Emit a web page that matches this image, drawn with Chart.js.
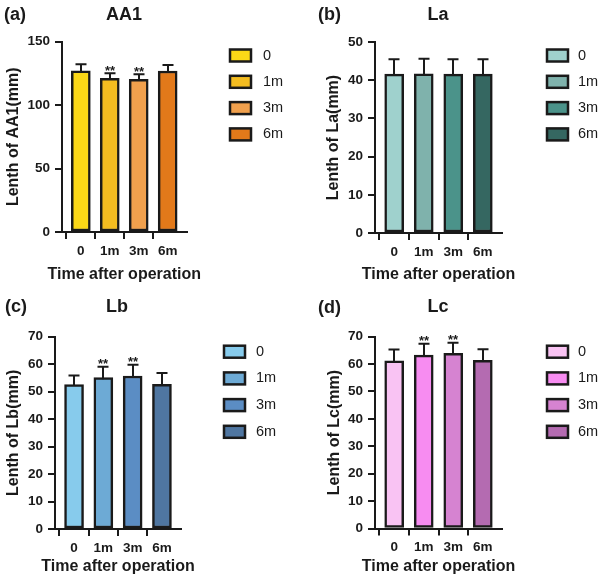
<!DOCTYPE html>
<html><head><meta charset="utf-8">
<script src="https://cdn.jsdelivr.net/npm/chart.js@4.4.1/dist/chart.umd.min.js"></script>
<style>
html,body{margin:0;padding:0;background:#fff;}
#wrap{position:relative;width:606px;height:586px;overflow:hidden;background:#fff;}
canvas{position:absolute;}
</style></head>
<body><div id="wrap">
<canvas id="ca" width="303" height="293" style="left:0;top:0"></canvas>
<canvas id="cb" width="303" height="293" style="left:303px;top:0"></canvas>
<canvas id="cc" width="303" height="293" style="left:0;top:293px"></canvas>
<canvas id="cd" width="303" height="293" style="left:303px;top:293px"></canvas>
</div>
<script>
// ---- data ----
const categories = ['0', '1m', '3m', '6m'];
const aa1Means = [127.0, 121.0, 120.2, 126.8];
const aa1Errors = [5.0, 4.0, 4.0, 4.7];
const aa1Sig = ['', '**', '**', ''];
const laMeans = [41.6, 41.7, 41.6, 41.6];
const laErrors = [3.9, 3.9, 3.9, 3.9];
const laSig = ['', '', '', ''];
const lbMeans = [52.6, 55.1, 55.7, 52.7];
const lbErrors = [3.3, 4.0, 4.1, 4.1];
const lbSig = ['', '**', '**', ''];
const lcMeans = [61.2, 63.3, 63.9, 61.4];
const lcErrors = [4.1, 4.1, 3.9, 4.0];
const lcSig = ['', '**', '**', ''];
const aa1Ticks = {max: 150, step: 50};
const laTicks = {max: 50, step: 10};
const lbTicks = {max: 70, step: 10};
const lcTicks = {max: 70, step: 10};
const xAxisTitle = 'Time after operation';

// ---- styles / layout ----
const FAM = "'Liberation Sans', Arial, Helvetica, sans-serif";
const INK = '#1a1a1a';
const CLEAR = 'rgba(0,0,0,0)';
const CW = 303, CH = 293;
const TITLE_SIZE = 16, HALF_LH = TITLE_SIZE * 1.2 / 2;
const panels = [
  {id:'ca', cx:0, cy:0, letter:'(a)', name:'AA1', yTitle:'Lenth of AA1(mm)', means:aa1Means, errs:aa1Errors, sig:aa1Sig, ticks:aa1Ticks,
   colors:['#FBD817','#F3BC20','#F0A04D','#E2791A'],
   left:62, right:186.5, top:41.5, bottom:232, yTitleX:13.5, xTitleY:275,
   letterX:4, letterY:15, nameX:124, nameY:15, legX:230, legY:55.5, legStep:26.3, legTextX:263},
  {id:'cb', cx:303, cy:0, letter:'(b)', name:'La', yTitle:'Lenth of La(mm)', means:laMeans, errs:laErrors, sig:laSig, ticks:laTicks,
   colors:['#9FD1CD','#7FB2AC','#4B938A','#356761'],
   left:375, right:502, top:42, bottom:233, yTitleX:334, xTitleY:275,
   letterX:318, letterY:15, nameX:438, nameY:15, legX:547, legY:55.5, legStep:26.3, legTextX:578},
  {id:'cc', cx:0, cy:293, letter:'(c)', name:'Lb', yTitle:'Lenth of Lb(mm)', means:lbMeans, errs:lbErrors, sig:lbSig, ticks:lbTicks,
   colors:['#87CBEC','#6DAAD5','#5B8DC4','#4F76A1'],
   left:55, right:181, top:336.7, bottom:529, yTitleX:13.5, xTitleY:567,
   letterX:5, letterY:307, nameX:117, nameY:307, legX:224, legY:351.7, legStep:26.7, legTextX:256},
  {id:'cd', cx:303, cy:293, letter:'(d)', name:'Lc', yTitle:'Lenth of Lc(mm)', means:lcMeans, errs:lcErrors, sig:lcSig, ticks:lcTicks,
   colors:['#F9C3F3','#F78CF1','#D683D1','#B46BB1'],
   left:375, right:502, top:336.7, bottom:528.5, yTitleX:335, xTitleY:567,
   letterX:318, letterY:308, nameX:438, nameY:307, legX:547, legY:351.7, legStep:26.7, legTextX:578}
];

function decoPlugin(p) {
  return {
    id: 'deco_' + p.id,
    afterDatasetsDraw(chart) {
      const ctx = chart.ctx;
      const ys = chart.scales.y;
      const area = chart.chartArea;
      const meta = chart.getDatasetMeta(0);
      ctx.save();
      // error bars (upper only) and significance stars
      ctx.strokeStyle = INK; ctx.lineWidth = 2; ctx.lineCap = 'butt';
      meta.data.forEach((bar, i) => {
        const x = Math.round(bar.x);
        const yTop = ys.getPixelForValue(p.means[i] + p.errs[i]);
        ctx.beginPath();
        ctx.moveTo(x, bar.y + 1.5); ctx.lineTo(x, yTop);
        ctx.moveTo(x - 5.5, yTop); ctx.lineTo(x + 5.5, yTop);
        ctx.stroke();
        if (p.sig[i]) {
          ctx.fillStyle = INK;
          ctx.font = 'bold 13px ' + FAM;
          ctx.textAlign = 'center'; ctx.textBaseline = 'alphabetic';
          ctx.fillText(p.sig[i], x, yTop + 1.5);
        }
      });
      // x axis title (drawn unsqueezed, centred under the plot area)
      ctx.fillStyle = INK;
      ctx.font = 'bold ' + TITLE_SIZE + 'px ' + FAM;
      ctx.textAlign = 'center'; ctx.textBaseline = 'middle';
      ctx.fillText(xAxisTitle, (area.left + area.right) / 2, p.xTitleY - p.cy);
      // panel letter and title
      ctx.font = 'bold 18px ' + FAM;
      ctx.textAlign = 'left';
      ctx.fillText(p.letter, p.letterX - p.cx, p.letterY - p.cy);
      ctx.textAlign = 'center';
      ctx.fillText(p.name, p.nameX - p.cx, p.nameY - p.cy);
      // legend
      categories.forEach((c, i) => {
        const y = p.legY - p.cy + i * p.legStep;
        const x = p.legX - p.cx;
        ctx.fillStyle = p.colors[i];
        ctx.fillRect(x, y - 6, 21, 12);
        ctx.strokeStyle = INK; ctx.lineWidth = 2.5;
        ctx.strokeRect(x, y - 6, 21, 12);
        ctx.fillStyle = INK;
        ctx.font = '14.5px ' + FAM;
        ctx.textAlign = 'left'; ctx.textBaseline = 'middle';
        ctx.fillText(c, p.legTextX - p.cx, y);
      });
      ctx.restore();
    }
  };
}

panels.forEach(p => {
  const padT = p.top - p.cy;
  const padR = p.cx + CW - p.right;
  const padL = Math.max(0, p.yTitleX - p.cx - HALF_LH - 4);
  const yW = p.left - p.cx - padL;
  const xH = CH - (p.bottom - p.cy);
  new Chart(document.getElementById(p.id), {
    type: 'bar',
    data: {
      datasets: [{
        data: p.means.map((v, i) => ({x: i, y: v})),
        backgroundColor: p.colors,
        borderColor: INK,
        borderWidth: 2.5,
        borderSkipped: false,
        barThickness: 19
      }]
    },
    options: {
      responsive: false,
      animation: false,
      events: [],
      layout: {padding: {left: padL, right: padR, top: padT, bottom: 0}},
      plugins: {legend: {display: false}, tooltip: {enabled: false}},
      scales: {
        x: {
          type: 'linear', min: -0.65, max: 3.65, offset: false,
          afterBuildTicks: s => { s.ticks = categories.map((c, i) => ({value: i})); },
          afterFit: s => { s.height = xH; },
          ticks: {stepSize: 1, includeBounds: false, callback: v => categories[v], font: {family: FAM, size: 13.5, weight: 'bold'}, color: INK, padding: 4, maxRotation: 0, autoSkip: false},
          grid: {display: true, drawOnChartArea: false, drawTicks: true, tickLength: 7,
                 color: c => (c.tick && Number.isInteger(c.tick.value)) ? INK : CLEAR, lineWidth: 2},
          border: {display: true, color: INK, width: 2},
          title: {display: false}
        },
        y: {
          min: 0, max: p.ticks.max,
          afterFit: s => { s.width = yW; },
          ticks: {stepSize: p.ticks.step, font: {family: FAM, size: 13.5, weight: 'bold'}, color: INK, padding: 5},
          grid: {display: true, drawOnChartArea: false, drawTicks: true, tickLength: 7, color: INK, lineWidth: 2},
          border: {display: true, color: INK, width: 2},
          title: {display: true, text: p.yTitle, font: {family: FAM, size: TITLE_SIZE, weight: 'bold'}, color: INK, padding: {top: 4, bottom: 0}}
        }
      }
    },
    plugins: [decoPlugin(p)]
  });
});
</script>
</body></html>
